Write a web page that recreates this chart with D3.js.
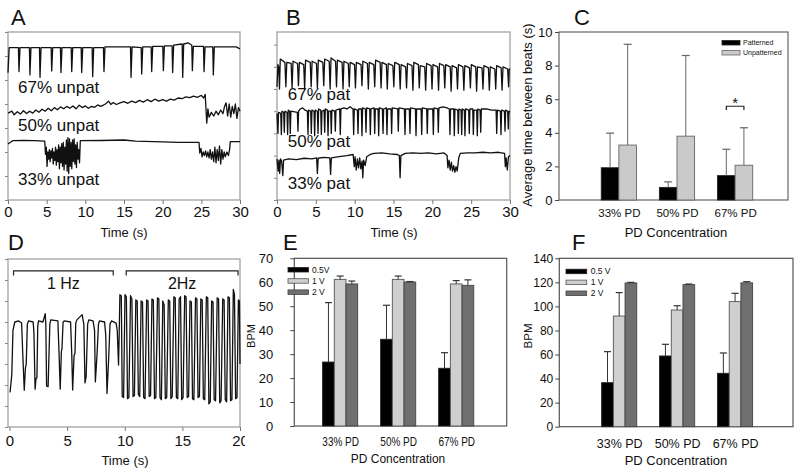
<!DOCTYPE html>
<html><head><meta charset="utf-8">
<script src="https://cdn.jsdelivr.net/npm/d3@7"></script>
<style>
body{margin:0;background:#fff}
svg{display:block}
text{font-family:"Liberation Sans",Arial,Helvetica,sans-serif;fill:#111}
</style></head>
<body><svg id="c" width="800" height="474"></svg>
<script>
// ---------------- DATA ----------------
// Panel A traces: [time s, amplitude in y-tick units]
const a67 = [[0,5.3],[0.15,6.35],[1.35,6.35],[1.42,5.35],[1.55,6.35],[2.77,6.35],[2.84,5.21],[2.97,6.35],[4.07,6.35],[4.14,5.11],[4.27,6.35],[5.58,6.35],[5.65,5.38],[5.78,6.35],[6.78,6.35],[6.85,5.31],[6.98,6.35],[8.17,6.35],[8.24,5.35],[8.37,6.35],[9.46,6.35],[9.53,5.31],[9.66,6.35],[10.88,6.35],[10.95,5.14],[11.08,6.35],[12.34,6.35],[12.41,5.35],[12.54,6.38],[15.84,6.38],[15.91,5.11],[16.04,6.38],[17.22,6.35],[17.29,5.25],[17.42,6.38],[18.51,6.38],[18.58,5.35],[18.71,6.4],[20.02,6.4],[20.09,5.39],[20.22,6.42],[21.22,6.42],[21.29,5.31],[21.42,6.45],[22.52,6.5],[22.59,5.11],[22.72,6.5],[23.3,6.55],[23.77,6.45],[23.84,5.39],[23.97,6.4],[25.28,6.4],[25.35,5.35],[25.48,6.38],[26.48,6.38],[26.55,5.21],[26.68,6.38],[29.5,6.38],[30,6.3]];
const a50 = [[0,3.62],[0.5,3.7],[0.8,3.55],[1.2,3.68],[1.6,3.58],[2.0,3.72],[2.4,3.6],[2.8,3.7],[3.2,3.62],[3.6,3.75],[4.0,3.66],[4.4,3.78],[4.8,3.7],[5.2,3.82],[5.6,3.72],[6.0,3.85],[6.4,3.76],[6.8,3.88],[7.2,3.8],[7.6,3.9],[8.0,3.82],[8.4,3.92],[8.8,3.8],[9.2,3.95],[9.6,3.85],[10.0,3.92],[10.4,3.82],[10.8,3.9],[11.2,3.86],[11.6,3.96],[12.0,3.9],[12.6,4.0],[13.0,4.12],[13.3,3.98],[13.6,4.06],[14.0,3.98],[14.5,4.05],[15.0,4.1],[15.5,4.03],[16.0,4.12],[16.5,4.06],[17.0,4.15],[17.5,4.08],[18.0,4.18],[18.5,4.1],[19.0,4.2],[19.5,4.12],[20.0,4.18],[20.5,4.12],[21.0,4.2],[21.5,4.16],[22.0,4.25],[22.5,4.22],[23.0,4.3],[23.5,4.27],[24.0,4.33],[24.5,4.28],[25.0,4.36],[25.3,4.25],[25.5,4.4],[25.7,3.2],[25.85,3.8],[26.0,3.45],[26.3,3.65],[26.6,3.5],[26.9,3.7],[27.2,3.55],[27.5,3.75],[27.8,3.6],[28.0,3.9],[28.2,4.05],[28.4,3.5],[28.6,4.0],[28.8,3.45],[29.0,3.9],[29.2,3.6],[29.4,4.0],[29.6,3.4],[29.8,3.85],[30,3.7]];
const a33 = [[0,2.33],[0.6,2.47],[2.0,2.48],[3.5,2.47],[4.7,2.45],[4.75,2.45],[4.85,1.9],[4.95,2.2],[5.05,1.4],[5.15,2.0],[5.25,1.7],[5.35,2.1],[5.45,1.6],[5.55,2.05],[5.65,1.75],[5.75,2.15],[5.85,1.5],[5.95,2.0],[6.05,1.65],[6.15,2.2],[6.25,1.45],[6.35,2.1],[6.45,1.6],[6.55,2.3],[6.65,1.3],[6.75,2.2],[6.85,1.55],[6.95,2.35],[7.05,1.4],[7.15,2.4],[7.25,1.25],[7.35,2.2],[7.45,1.5],[7.55,2.5],[7.65,1.2],[7.75,2.6],[7.85,1.1],[7.95,2.55],[8.05,1.4],[8.15,2.4],[8.25,1.3],[8.35,2.5],[8.45,1.6],[8.55,2.55],[8.65,1.5],[8.75,2.3],[8.85,1.35],[8.95,2.4],[9.05,1.7],[9.15,2.1],[9.25,1.55],[9.35,2.47],[12.0,2.48],[15.0,2.5],[16.5,2.45],[20.0,2.42],[22.0,2.4],[24.6,2.4],[24.7,2.4],[24.8,1.95],[24.95,2.15],[25.1,1.8],[25.25,2.0],[25.4,1.85],[25.55,2.05],[25.7,1.8],[25.85,2.0],[26.0,1.75],[26.15,2.1],[26.3,1.7],[26.45,2.0],[26.6,1.6],[26.75,2.2],[26.9,1.55],[27.05,2.1],[27.2,1.65],[27.35,2.25],[27.5,1.5],[27.65,2.1],[27.8,1.7],[27.95,2.0],[28.1,1.8],[28.3,2.0],[28.5,1.85],[28.65,2.1],[28.75,2.43],[30,2.43]];
const aLabels = ["67% unpat","50% unpat","33% unpat"];

// Panel B traces
const b67 = [[0,5.1],[0.12,6.1],[0.22,6.0],[0.32,5.0],[0.42,6.35],[1.02,6.2],[1.14,5.1],[1.26,6.2],[1.82,6.15],[1.94,5.05],[2.06,6.25],[2.64,6.15],[2.76,5.15],[2.88,6.2],[3.44,6.1],[3.56,5.0],[3.68,6.3],[4.28,6.2],[4.4,5.1],[4.52,6.25],[5.08,6.15],[5.2,5.05],[5.32,6.3],[5.9,6.2],[6.02,5.15],[6.14,6.35],[6.72,6.25],[6.84,5.0],[6.96,6.4],[7.54,6.25],[7.66,5.1],[7.78,6.3],[8.38,6.2],[8.5,5.0],[8.62,6.25],[9.18,6.15],[9.3,5.1],[9.42,6.2],[9.98,6.1],[10.1,5.05],[10.22,6.2],[10.82,6.1],[10.94,5.15],[11.06,6.25],[11.64,6.15],[11.76,5.0],[11.88,6.2],[12.46,6.1],[12.58,5.1],[12.7,6.3],[13.28,6.2],[13.4,5.05],[13.52,6.2],[14.08,6.1],[14.2,5.0],[14.32,6.15],[14.92,6.05],[15.04,5.1],[15.16,6.2],[15.74,6.1],[15.86,5.0],[15.98,6.1],[16.56,6.0],[16.68,5.05],[16.8,6.15],[17.38,6.05],[17.5,4.95],[17.62,6.2],[18.2,6.1],[18.32,5.05],[18.44,6.05],[19.02,6.0],[19.14,4.95],[19.26,6.15],[19.84,6.05],[19.96,5.0],[20.08,6.1],[20.68,6.0],[20.8,4.95],[20.92,6.15],[21.48,6.05],[21.6,5.05],[21.72,6.1],[22.3,6.0],[22.42,4.9],[22.54,6.05],[23.12,5.95],[23.24,5.0],[23.36,6.1],[23.94,6.0],[24.06,4.95],[24.18,6.05],[24.78,5.95],[24.9,5.05],[25.02,6.1],[25.58,6.0],[25.7,4.9],[25.82,6.0],[26.4,5.95],[26.52,5.0],[26.64,6.05],[27.22,5.95],[27.34,4.95],[27.46,6.0],[28.04,5.9],[28.16,5.0],[28.28,6.05],[28.86,5.95],[28.98,4.95],[29.1,6.0],[29.7,5.9],[29.82,5.1],[29.9,5.9],[30,5.85]];
const b50 = [[0,3.9],[0.12,3.0],[0.2,3.95],[0.48,3.9],[0.56,2.95],[0.64,4.0],[0.86,3.95],[0.94,3.05],[1.02,4.0],[1.29,3.95],[1.37,2.95],[1.45,4.05],[1.63,4.0],[1.71,3.0],[1.79,4.0],[2.62,3.95],[2.7,3.1],[2.78,4.0],[3.0,4.1],[3.3,4.15],[3.6,4.05],[3.91,4.0],[3.99,2.95],[4.07,4.05],[4.34,4.0],[4.42,3.0],[4.5,4.05],[4.77,4.0],[4.85,2.9],[4.93,4.05],[5.2,4.0],[5.28,3.0],[5.36,4.1],[5.63,4.05],[5.71,2.95],[5.79,4.0],[6.06,4.05],[6.14,3.05],[6.22,4.1],[6.49,4.05],[6.57,2.9],[6.65,4.0],[6.91,4.0],[6.99,3.0],[7.07,4.05],[7.43,4.0],[7.51,3.1],[7.59,4.05],[8.07,4.1],[8.15,2.95],[8.23,4.1],[8.6,4.15],[9.0,4.1],[9.4,4.2],[9.79,4.1],[9.87,2.95],[9.95,4.1],[10.35,4.05],[10.43,3.0],[10.51,4.1],[10.86,4.1],[10.94,2.9],[11.02,4.15],[11.38,4.1],[11.46,3.05],[11.54,4.15],[11.94,4.1],[12.02,2.95],[12.1,4.1],[12.5,4.15],[12.58,3.0],[12.66,4.1],[13.01,4.1],[13.09,2.9],[13.17,4.15],[13.57,4.1],[13.65,3.0],[13.73,4.1],[14.08,4.15],[14.16,2.95],[14.24,4.1],[14.68,4.1],[14.76,3.0],[14.84,4.15],[15.54,4.1],[15.62,3.1],[15.7,4.15],[16.4,4.1],[16.48,2.95],[16.56,4.1],[17.04,4.1],[17.12,3.0],[17.2,4.15],[17.82,4.1],[17.9,2.9],[17.98,4.1],[18.55,4.1],[18.63,2.95],[18.71,4.15],[19.27,4.1],[19.35,3.0],[19.43,4.1],[20.05,4.1],[20.13,2.95],[20.21,4.15],[20.69,4.1],[20.77,3.05],[20.85,4.15],[21.4,4.2],[21.9,4.15],[22.19,4.1],[22.27,2.95],[22.35,4.1],[22.75,4.1],[22.83,2.9],[22.91,4.1],[23.27,4.05],[23.35,3.0],[23.43,4.1],[23.7,4.05],[23.78,2.95],[23.86,4.1],[24.12,4.05],[24.2,2.9],[24.28,4.1],[24.68,4.05],[24.76,3.0],[24.84,4.1],[25.2,4.1],[25.28,2.95],[25.36,4.05],[25.71,4.05],[25.79,2.9],[25.87,4.1],[26.15,4.05],[26.23,3.05],[26.31,4.1],[27.0,4.1],[27.6,4.05],[28.21,4.05],[28.29,3.0],[28.37,4.05],[28.76,4.0],[28.84,2.95],[28.92,4.05],[29.28,4.0],[29.36,3.1],[29.44,4.05],[29.7,4.0],[29.78,3.2],[29.86,4.0],[30,3.95]];
const b33 = [[0,1.85],[0.15,1.3],[0.25,1.8],[0.35,1.2],[0.45,1.85],[0.6,1.75],[0.75,1.1],[0.85,1.8],[1.5,1.85],[2.5,1.82],[3.5,1.88],[4.5,1.85],[5.1,1.9],[5.2,1.2],[5.3,1.88],[6.0,1.92],[6.8,1.9],[6.9,1.15],[7.0,1.9],[8.0,1.95],[9.0,2.0],[9.8,2.05],[9.95,1.5],[10.05,1.95],[10.2,1.35],[10.35,1.85],[10.5,1.45],[10.65,1.9],[10.8,1.4],[10.95,1.75],[11.05,1.0],[11.15,1.8],[11.35,1.55],[11.55,1.95],[12.0,2.05],[12.5,2.1],[13.5,2.12],[14.5,2.08],[15.5,2.05],[15.75,2.0],[15.85,1.0],[15.95,2.0],[16.5,2.1],[17.5,2.12],[18.5,2.1],[19.5,2.12],[20.5,2.08],[21.5,2.12],[21.9,2.0],[22.0,1.45],[22.15,1.8],[22.3,1.35],[22.45,1.7],[22.6,1.3],[22.75,1.55],[22.9,1.25],[23.05,1.5],[23.2,1.3],[23.4,1.9],[23.6,2.1],[24.5,2.12],[25.5,2.12],[26.5,2.15],[27.5,2.12],[28.5,2.15],[29.3,2.1],[29.4,1.5],[29.5,1.9],[29.65,1.35],[29.8,1.95],[30,2.0]];
const bLabels = ["67% pat","50% pat","33% pat"];

// Panel D trace
const dTrace = [[0.05,1.65],[0.2,2.5],[0.3,4.6],[0.46,5.0],[0.8,5.05],[1.05,4.95],[1.15,3.5],[1.28,1.75],[1.38,2.8],[1.45,3.0],[1.55,4.9],[1.65,5.05],[2.05,5.0],[2.12,4.5],[2.22,1.8],[2.3,2.3],[2.38,2.35],[2.45,4.8],[2.52,5.05],[2.9,5.0],[3.1,5.4],[3.15,4.9],[3.22,1.95],[3.35,1.92],[3.5,4.9],[3.58,5.1],[4.2,5.05],[4.3,3.5],[4.4,1.8],[4.5,3.6],[4.55,3.7],[4.65,5.0],[4.75,5.05],[5.3,5.0],[5.4,3.5],[5.48,1.76],[5.6,3.4],[5.68,3.5],[5.75,4.95],[5.85,5.1],[6.3,5.35],[6.45,4.9],[6.55,2.1],[6.65,2.4],[6.78,4.9],[6.88,5.1],[7.25,5.05],[7.38,4.6],[7.45,2.15],[7.6,3.5],[7.72,4.9],[7.8,5.05],[8.25,5.0],[8.35,4.4],[8.46,1.6],[8.6,3.2],[8.72,4.9],[8.85,5.05],[9.25,4.95],[9.35,4.6],[9.46,2.95],[9.52,4.5],
[9.58,6.3],[9.7,6.25],[9.78,1.45],[9.9,1.4],[10.02,6.3],[10.14,6.2],[10.24,1.35],[10.36,1.4],[10.5,6.25],[10.62,6.1],[10.72,1.45],[10.84,1.5],[10.96,6.05],[11.08,6.0],[11.18,1.55],[11.3,1.45],[11.42,6.0],[11.54,5.95],[11.64,1.4],[11.76,1.35],[11.9,6.05],[12.02,6.0],[12.12,1.45],[12.24,1.5],[12.36,6.1],[12.48,6.05],[12.58,1.35],[12.7,1.4],[12.84,6.15],[12.96,6.1],[13.06,1.4],[13.18,1.3],[13.3,6.0],[13.42,5.8],[13.52,1.35],[13.64,1.4],[13.78,6.05],[13.9,6.0],[14.0,1.35],[14.12,1.45],[14.26,6.2],[14.38,6.15],[14.48,1.4],[14.6,1.35],[14.72,6.1],[14.84,6.2],[14.94,1.3],[15.06,1.4],[15.2,6.25],[15.32,6.2],[15.42,1.4],[15.54,1.45],[15.66,6.0],[15.78,5.95],[15.88,1.35],[16.0,1.3],[16.14,6.15],[16.26,6.1],[16.36,1.4],[16.48,1.45],[16.6,6.1],[16.72,6.05],[16.82,1.35],[16.94,1.3],[17.08,6.2],[17.2,6.15],[17.3,1.1],[17.42,1.2],[17.54,6.0],[17.66,5.95],[17.76,1.3],[17.88,1.25],[18.02,6.15],[18.14,6.1],[18.24,1.15],[18.36,1.25],[18.5,6.1],[18.62,6.05],[18.72,1.3],[18.84,1.2],[18.96,6.2],[19.08,6.15],[19.18,1.25],[19.3,1.3],[19.42,6.55],[19.52,6.3],[19.62,1.35],[19.74,1.4],[19.86,6.05],[19.95,6.0],[20.0,3.0]];
const dBrackets = [{label:"1 Hz", t0:0.35, t1:9.0}, {label:"2Hz", t0:10.13, t1:19.83}];

const traceTimeTicks30 = [0,5,10,15,20,25,30];
const traceTimeTicks20 = [0,5,10,15,20];
const traceYTicksA = [0,1,2,3,4,5,6,7];
const traceYTicksB = [0,1,2,3,4,5,6,7];
const traceYTicksD = [0,1,2,3,4,5,6,7,8];

// Panel C
const cCats = ["33% PD","50% PD","67% PD"];
const cPatterned = [1.92, 0.75, 1.45];
const cPatternedErr = [3.98, 1.08, 3.02];
const cUnpatterned = [3.27, 3.80, 2.07];
const cUnpatternedErr = [9.27, 8.60, 4.30];
const cYTicks = [0,2,4,6,8,10];

// Panel E
const eCats = ["33% PD","50% PD","67% PD"];
const e05V = [26.7, 36.2, 24.1];
const e05VErr = [51.5, 50.4, 30.6];
const e1V = [61.2, 61.2, 59.3];
const e1VErr = [62.6, 62.6, 60.7];
const e2V = [59.3, 60.1, 58.7];
const e2VErr = [60.5, 60.3, 61.0];
const eYTicks = [0,10,20,30,40,50,60,70];

// Panel F
const fCats = ["33% PD","50% PD","67% PD"];
const f05V = [36.6, 58.8, 44.4];
const f05VErr = [62.4, 68.5, 61.3];
const f1V = [92.0, 97.0, 104.0];
const f1VErr = [111.5, 100.6, 110.9];
const f2V = [119.5, 118.1, 119.6];
const f2VErr = [120.0, 118.6, 120.6];
const fYTicks = [0,20,40,60,80,100,120,140];

// ---------------- DRAWING ----------------
const svg = d3.select("#c");

function styleAxis(sel, color, fs){
  sel.select(".domain").remove();
  sel.selectAll(".tick line").attr("stroke", color).attr("stroke-width",1);
  sel.selectAll(".tick text").attr("fill","#111").style("font-size", fs+"px")
     .style("font-family",'"Liberation Sans",Arial,sans-serif');
}

function tracePanel(cfg){
  const g = svg.append("g");
  if (cfg.clipRight){
    const id = "clip"+Math.round(cfg.clipRight);
    svg.append("clipPath").attr("id",id).append("rect")
      .attr("x",0).attr("y",cfg.top-40).attr("width",cfg.clipRight).attr("height",300);
    g.attr("clip-path",`url(#${id})`);
  }
  const xs = d3.scaleLinear().domain(cfg.xDomain).range(cfg.xRange);
  const ys = d3.scaleLinear().domain(cfg.yDomain).range([cfg.bottom, cfg.top]);
  g.append("rect").attr("x",cfg.left).attr("y",cfg.top)
    .attr("width",cfg.right-cfg.left).attr("height",cfg.bottom-cfg.top)
    .attr("fill","none").attr("stroke","#9a9a9a").attr("stroke-width",1.2);
  const ax = g.append("g").attr("transform",`translate(0,${cfg.bottom})`)
    .call(d3.axisBottom(xs).tickValues(cfg.xTicks).tickSize(4).tickSizeOuter(0).tickPadding(cfg.xPad));
  styleAxis(ax,"#777",15);
  const ay = g.append("g").attr("transform",`translate(${cfg.left},0)`)
    .call(d3.axisLeft(ys).tickValues(cfg.yTicks).tickSize(3).tickSizeOuter(0).tickFormat(()=>""));
  styleAxis(ay,"#888",10);
  const line = d3.line().x(d=>xs(d[0])).y(d=>ys(d[1]));
  cfg.traces.forEach(tr=>{
    g.append("path").datum(tr).attr("d",line).attr("fill","none")
      .attr("stroke","#111").attr("stroke-width",1.3).attr("stroke-linejoin","round");
  });
  (cfg.labels||[]).forEach((lb,i)=>{
    g.append("text").attr("x",xs(cfg.labelPos[i][0])).attr("y",ys(cfg.labelPos[i][1]))
      .style("font-size","17px").text(lb);
  });
  return {g, xs, ys};
}

// Panel A
tracePanel({left:8,right:240,top:32,bottom:200,xDomain:[0,30],xRange:[8,240],yDomain:[0,7],
  xTicks:traceTimeTicks30,yTicks:traceYTicksA,xPad:2.5,traces:[a67,a50,a33],
  labels:aLabels,labelPos:[[1.3,4.45],[1.3,2.86],[1.3,0.62]]});
// Panel B
tracePanel({left:277,right:510,top:32,bottom:200,xDomain:[0,30],xRange:[277,510],yDomain:[0,168/22.2],
  xTicks:traceTimeTicks30,yTicks:traceYTicksB,xPad:2.5,traces:[b67,b50,b33],
  labels:bLabels,labelPos:[[1.4,4.5],[1.4,2.38],[1.4,0.5]]});
// Panel D
const D = tracePanel({left:8,right:240,top:259,bottom:427,xDomain:[0,20],xRange:[9.5,240],yDomain:[0,8],
  xTicks:traceTimeTicks20,yTicks:traceYTicksD,xPad:4.5,traces:[dTrace],clipRight:245});
dBrackets.forEach(b=>{
  const x0=D.xs(b.t0), x1=D.xs(b.t1), yT=D.ys(7.43), yB=D.ys(7.22);
  D.g.append("path").attr("d",`M${x0},${yB}V${yT}H${x1}V${yB}`).attr("fill","none")
    .attr("stroke","#222").attr("stroke-width",1.2);
  D.g.append("text").attr("x",D.xs((b.t0+b.t1)/2)).attr("y",D.ys(6.55))
    .attr("text-anchor","middle").style("font-size","16px").text(b.label);
});

function barPanel(cfg){
  const g = svg.append("g");
  const xs = d3.scaleLinear().domain(cfg.xDomain).range([cfg.left,cfg.right]);
  const ys = d3.scaleLinear().domain([0,cfg.yMax]).range([cfg.bottom,cfg.top]);
  g.append("rect").attr("x",cfg.left).attr("y",cfg.top)
    .attr("width",cfg.right-cfg.left).attr("height",cfg.bottom-cfg.top)
    .attr("fill","none").attr("stroke",cfg.frame).attr("stroke-width",1.2);
  const ay = g.append("g").attr("transform",`translate(${cfg.left},0)`)
    .call(d3.axisLeft(ys).tickValues(cfg.yTicks).tickSize(4).tickSizeOuter(0).tickPadding(cfg.yPad));
  styleAxis(ay,"#444",cfg.yFs);
  const ax = g.append("g").attr("transform",`translate(0,${cfg.bottom})`)
    .call(d3.axisBottom(xs).tickValues([1,2,3]).tickFormat((d,i)=>cfg.cats[i]).tickSize(0).tickPadding(cfg.xPad));
  styleAxis(ax,"#444",cfg.xFs);
  if (cfg.xSquash) ax.selectAll(".tick text").attr("transform",`scale(${cfg.xSquash},1)`);
  const n = cfg.series.length, bw = cfg.bw;
  cfg.series.forEach((s,j)=>{
    const off = (j-(n-1)/2)*bw;
    g.selectAll(null).data(s.values).join("rect")
      .attr("x",(d,i)=>xs(i+1)+off-bw/2).attr("y",d=>ys(d))
      .attr("width",bw).attr("height",d=>ys(0)-ys(d))
      .attr("fill",s.fill).attr("stroke",s.stroke).attr("stroke-width",0.9);
  });
  cfg.series.forEach((s,j)=>{
    const off = (j-(n-1)/2)*bw;
    s.errs.forEach((e,i)=>{
      const cx = xs(i+1)+off;
      g.append("line").attr("x1",cx).attr("x2",cx).attr("y1",ys(s.values[i])).attr("y2",ys(e))
        .attr("stroke",cfg.errColor).attr("stroke-width",1);
      g.append("line").attr("x1",cx-cfg.cap).attr("x2",cx+cfg.cap).attr("y1",ys(e)).attr("y2",ys(e))
        .attr("stroke",cfg.errColor).attr("stroke-width",1.2);
    });
  });
  // legend
  cfg.series.forEach((s,j)=>{
    const L = cfg.legend;
    g.append("rect").attr("x",L.x).attr("y",L.y+j*L.dy).attr("width",L.w).attr("height",L.h)
      .attr("fill",s.fill).attr("stroke",s.stroke).attr("stroke-width",0.8);
    g.append("text").attr("x",L.x+L.w+L.gap).attr("y",L.y+j*L.dy+L.h/2).attr("dy","0.35em")
      .style("font-size",L.fs+"px").text(s.name);
  });
  return {g,xs,ys};
}

// Panel C
const C = barPanel({left:559,right:788,top:32,bottom:200,xDomain:[-0.03,3.91],yMax:10,yTicks:cYTicks,
  cats:cCats,yPad:2.5,yFs:13,xPad:9,xFs:11.5,frame:"#666",bw:17.6,cap:4,errColor:"#666",
  series:[{name:"Patterned",values:cPatterned,errs:cPatternedErr,fill:"#000",stroke:"#222"},
          {name:"Unpatterned",values:cUnpatterned,errs:cUnpatternedErr,fill:"#cacaca",stroke:"#666"}],
  legend:{x:722,y:40.5,dy:10,w:18,h:4.5,gap:3,fs:7}});
{
  const xb = C.xs(3)-17.6/2, xg = C.xs(3)+17.6/2;
  C.g.append("path").attr("d",`M${xb},${C.ys(5.35)}V${C.ys(5.58)}H${xg}V${C.ys(5.35)}`)
    .attr("fill","none").attr("stroke","#222").attr("stroke-width",1.2);
  C.g.append("text").attr("x",C.xs(3)).attr("y",C.ys(5.48)).attr("text-anchor","middle")
    .style("font-size","15px").text("*");
}

// Panel E
barPanel({left:294.3,right:506.7,top:258.3,bottom:426,xDomain:[0.21,3.87],yMax:70,yTicks:eYTicks,
  cats:eCats,yPad:17,yFs:13,xPad:11.5,xFs:12.5,xSquash:0.8,frame:"#555",bw:11.7,cap:3.5,errColor:"#333",
  series:[{name:"0.5V",values:e05V,errs:e05VErr,fill:"#000",stroke:"#222"},
          {name:"1 V",values:e1V,errs:e1VErr,fill:"#cfcfcf",stroke:"#555"},
          {name:"2 V",values:e2V,errs:e2VErr,fill:"#6f6f6f",stroke:"#444"}],
  legend:{x:288,y:267.5,dy:11.2,w:20.5,h:4.5,gap:3.5,fs:8.5}});

// Panel F
barPanel({left:559.3,right:793,top:258.3,bottom:426.7,xDomain:[-0.034,4.0],yMax:140,yTicks:fYTicks,
  cats:fCats,yPad:2,yFs:12,xPad:12,xFs:12.5,frame:"#555",bw:11.7,cap:3.5,errColor:"#333",
  series:[{name:"0.5 V",values:f05V,errs:f05VErr,fill:"#000",stroke:"#222"},
          {name:"1 V",values:f1V,errs:f1VErr,fill:"#cfcfcf",stroke:"#555"},
          {name:"2 V",values:f2V,errs:f2VErr,fill:"#6f6f6f",stroke:"#444"}],
  legend:{x:566,y:269.2,dy:10.9,w:20.7,h:4.5,gap:4,fs:8.5}});

// Axis titles and panel letters
const titles = [
  {t:"Time (s)",x:124,y:237,fs:13},
  {t:"Time (s)",x:394,y:237,fs:13},
  {t:"PD Concentration",x:676,y:237,fs:13},
  {t:"Time (s)",x:125,y:465,fs:13},
  {t:"PD Concentration",x:398,y:463,fs:13,sx:0.92},
  {t:"PD Concentration",x:676,y:465,fs:13}
];
titles.forEach(d=>{
  svg.append("text").attr("transform",`translate(${d.x},${d.y}) scale(${d.sx||1},1)`)
    .attr("text-anchor","middle").style("font-size",d.fs+"px").text(d.t);
});
const yTitles = [
  {t:"Average time between beats (s)",x:532,y:115,fs:13},
  {t:"BPM",x:255,y:336,fs:11},
  {t:"BPM",x:532,y:336,fs:11.5}
];
yTitles.forEach(d=>{
  svg.append("text").attr("transform",`translate(${d.x},${d.y}) rotate(-90)`)
    .attr("text-anchor","middle").style("font-size",d.fs+"px").text(d.t);
});
const letters = [["A",11,25],["B",286,25],["C",574,25],["D",8,250],["E",283,250],["F",572,250]];
letters.forEach(l=>{
  svg.append("text").attr("x",l[1]).attr("y",l[2]).style("font-size","22px").text(l[0]);
});
</script></body></html>
